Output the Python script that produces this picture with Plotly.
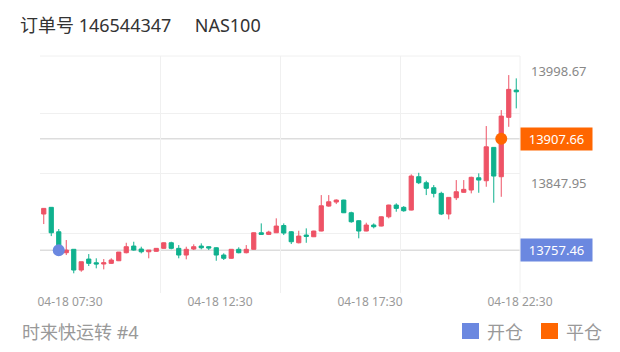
import plotly.graph_objects as go
import pandas as pd

# ---------------- data ----------------
times = pd.date_range("2024-04-18 06:30", periods=64, freq="15min")

opens = [13806.3, 13815.3, 13782.4, 13754.2, 13758.8, 13730.9, 13745.7, 13740.7,
         13739.0, 13739.9, 13743.4, 13754.2, 13763.2, 13759.2, 13755.5, 13756.1,
         13760.1, 13767.6, 13760.1, 13751.1, 13759.2, 13763.2, 13762.3, 13760.9,
         13751.1, 13746.7, 13758.8, 13754.2, 13758.8, 13781.1, 13778.9, 13781.1,
         13790.8, 13782.4, 13767.6, 13778.0, 13775.7, 13783.4, 13817.0, 13822.4,
         13825.1, 13808.0, 13797.3, 13783.4, 13791.5, 13790.1, 13802.6, 13818.4,
         13815.3, 13811.6, 13856.5, 13848.4, 13841.7, 13834.1, 13806.3, 13828.2,
         13835.5, 13838.6, 13855.1, 13851.1, 13896.0, 13856.5, 13936.4, 13973.1]
highs = [13814.3, 13815.6, 13786.1, 13771.3, 13758.8, 13742.1, 13752.4, 13746.7,
         13745.7, 13746.7, 13755.1, 13767.6, 13769.0, 13762.3, 13757.8, 13760.5,
         13768.2, 13769.0, 13764.5, 13762.3, 13765.5, 13766.8, 13763.2, 13761.5,
         13753.4, 13759.2, 13761.5, 13764.5, 13781.6, 13793.7, 13783.8, 13800.5,
         13793.7, 13783.4, 13783.8, 13787.0, 13783.8, 13831.8, 13831.8, 13826.0,
         13825.5, 13809.4, 13797.8, 13794.6, 13793.7, 13803.1, 13818.8, 13820.7,
         13817.0, 13859.7, 13861.8, 13851.1, 13845.3, 13836.3, 13829.1, 13852.0,
         13852.0, 13856.5, 13861.0, 13924.7, 13896.4, 13946.2, 13993.3, 13988.9]
lows = [13792.8, 13776.6, 13753.8, 13751.1, 13726.5, 13728.6, 13736.3, 13733.2,
        13731.8, 13739.0, 13743.0, 13753.4, 13756.9, 13753.4, 13746.7, 13755.5,
        13759.6, 13758.8, 13746.7, 13745.3, 13757.8, 13758.8, 13757.8, 13743.4,
        13744.4, 13746.1, 13753.4, 13753.4, 13758.2, 13778.4, 13778.0, 13780.7,
        13778.0, 13765.9, 13766.8, 13767.6, 13775.3, 13783.0, 13816.1, 13819.7,
        13807.6, 13794.6, 13773.6, 13783.0, 13787.0, 13789.7, 13800.5, 13809.4,
        13809.4, 13811.2, 13846.6, 13831.8, 13828.7, 13804.9, 13799.1, 13825.1,
        13834.9, 13834.1, 13834.9, 13843.0, 13821.5, 13829.5, 13923.7, 13948.5]
closes = [13813.9, 13781.1, 13757.5, 13757.8, 13730.9, 13742.1, 13739.9, 13739.0,
          13740.7, 13744.4, 13755.1, 13762.3, 13757.8, 13755.5, 13757.8, 13760.1,
          13767.6, 13760.1, 13751.1, 13758.8, 13762.3, 13760.9, 13760.5, 13751.1,
          13746.7, 13758.8, 13754.2, 13758.8, 13781.1, 13778.9, 13782.0, 13790.1,
          13780.7, 13769.0, 13776.6, 13776.2, 13783.4, 13817.4, 13822.8, 13825.1,
          13808.0, 13795.9, 13783.4, 13791.5, 13789.2, 13802.6, 13818.4, 13813.9,
          13810.7, 13857.4, 13848.4, 13840.9, 13834.1, 13806.3, 13828.7, 13836.3,
          13839.5, 13855.7, 13852.0, 13896.8, 13857.4, 13938.1, 13974.1, 13970.8]

open_time = "2024-04-18 07:00"
open_price = 13757.46
close_time = "2024-04-18 21:45"
close_price = 13907.66

axis_label_values = [13998.67, 13847.95]
x_label_times = ["2024-04-18 07:30", "2024-04-18 12:30", "2024-04-18 17:30", "2024-04-18 22:30"]
x_label_text = ["04-18 07:30", "04-18 12:30", "04-18 17:30", "04-18 22:30"]

title_text = "订单号 146544347\u00a0\u00a0\u00a0\u00a0\u00a0NAS100"
footer_text = "时来快运转 #4"
legend_open = "开仓"
legend_close = "平仓"

# ---------------- style ----------------
RED = "#ee5366"
GREEN = "#0fb18e"
BLUE = "#6b88e0"
ORANGE = "#ff6600"
GRID = "#f0f0f0"
FONT = "Noto Sans, Noto Sans CJK SC, sans-serif"
PERIOD = 15 * 60 * 1000

fig = go.Figure()
fig.add_trace(go.Candlestick(
    x=times, open=opens, high=highs, low=lows, close=closes,
    xperiod=PERIOD, xperiodalignment="middle",
    increasing=dict(line=dict(color=RED, width=1), fillcolor=RED),
    decreasing=dict(line=dict(color=GREEN, width=1), fillcolor=GREEN),
    whiskerwidth=0, showlegend=False, hoverinfo="skip",
))
fig.add_trace(go.Scatter(
    x=[open_time], y=[open_price], mode="markers",
    xperiod=PERIOD, xperiodalignment="middle",
    marker=dict(color=BLUE, size=12), showlegend=False, hoverinfo="skip",
))
fig.add_trace(go.Scatter(
    x=[close_time], y=[close_price], mode="markers",
    xperiod=PERIOD, xperiodalignment="middle",
    marker=dict(color=ORANGE, size=12), showlegend=False, hoverinfo="skip",
))

shapes = []
for v in (open_price, close_price):
    shapes.append(dict(type="line", xref="paper", x0=0, x1=1, yref="y", y0=v, y1=v,
                       line=dict(color="#dddddd", width=1.5), layer="below"))
# top border and right border
shapes.append(dict(type="line", xref="paper", x0=0, x1=1, yref="paper", y0=1, y1=1,
                   line=dict(color=GRID, width=1), layer="below"))
shapes.append(dict(type="line", xref="paper", x0=1, x1=1, yref="paper", y0=0, y1=1,
                   line=dict(color=GRID, width=1), layer="below"))
# legend squares
shapes.append(dict(type="rect", xref="paper", yref="paper", x0=0.8792, x1=0.9146,
                   y0=-0.1941, y1=-0.1266, fillcolor=BLUE, line=dict(width=0)))
shapes.append(dict(type="rect", xref="paper", yref="paper", x0=1.0438, x1=1.0792,
                   y0=-0.1941, y1=-0.1266, fillcolor=ORANGE, line=dict(width=0)))

annotations = [
    dict(xref="paper", x=1, xanchor="left", yref="y", y=close_price, text=f"{close_price:.2f}",
         showarrow=False, bgcolor=ORANGE, font=dict(color="white", size=13, family=FONT),
         width=64, height=15, borderpad=3.5, align="center"),
    dict(xref="paper", x=1, xanchor="left", yref="y", y=open_price, text=f"{open_price:.2f}",
         showarrow=False, bgcolor=BLUE, font=dict(color="white", size=13, family=FONT),
         width=64, height=15, borderpad=3.5, align="center"),
    dict(xref="paper", x=-0.0417, xanchor="left", yref="paper", y=-0.1646, yanchor="middle",
         text=footer_text, showarrow=False, font=dict(color="#999999", size=18, family=FONT)),
    dict(xref="paper", x=0.9271, xanchor="left", yref="paper", y=-0.1646, yanchor="middle",
         text=legend_open, showarrow=False, font=dict(color="#999999", size=18, family=FONT)),
    dict(xref="paper", x=1.0917, xanchor="left", yref="paper", y=-0.1646, yanchor="middle",
         text=legend_close, showarrow=False, font=dict(color="#999999", size=18, family=FONT)),
]

fig.update_layout(
    width=620, height=352,
    margin=dict(l=40, r=100, t=56, b=59),
    paper_bgcolor="white", plot_bgcolor="white",
    font=dict(family=FONT),
    boxgap=0.2,
    title=dict(text=title_text, x=20 / 620, xanchor="left", xref="container",
               y=1 - 26 / 352, yanchor="middle", yref="container",
               font=dict(size=18, color="#333333", family=FONT)),
    shapes=shapes, annotations=annotations,
    xaxis=dict(
        type="date", range=[times[0], "2024-04-18 22:30"],
        rangeslider=dict(visible=False),
        tickmode="array", tickvals=x_label_times, ticktext=x_label_text,
        showgrid=False, zeroline=False, showline=False, ticks="",
        tickfont=dict(size=12, color="#999999"),
        minor=dict(tickmode="linear", tick0="2024-04-18 06:30", dtick=4 * 3600 * 1000,
                   showgrid=True, gridcolor=GRID, gridwidth=1, ticks=""),
    ),
    yaxis=dict(
        side="right", range=[13700, 14019],
        tickmode="array", tickvals=axis_label_values,
        ticktext=[f"{v:.2f}" for v in axis_label_values],
        showgrid=False, zeroline=False, showline=False, ticks="",
        ticklabelstandoff=10,
        tickfont=dict(size=13, color="#888888"),
        minor=dict(tickmode="linear", tick0=13700, dtick=80.5,
                   showgrid=True, gridcolor=GRID, gridwidth=1, ticks=""),
    ),
)

fig.write_html("out.html")
